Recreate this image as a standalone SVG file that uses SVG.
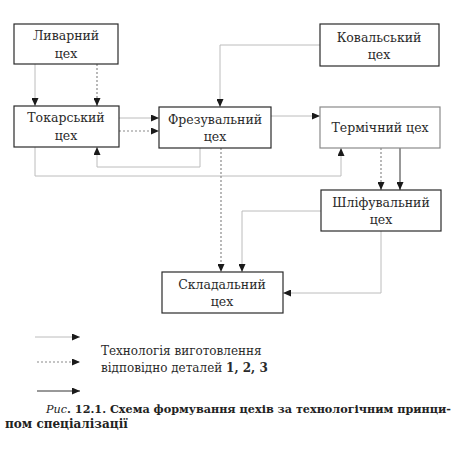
<svg xmlns="http://www.w3.org/2000/svg" width="458" height="455" viewBox="0 0 458 455">
<style>
.box{fill:#fff;stroke:#2a2a2a;stroke-width:1.2}
.boxl{fill:#fff;stroke:#8a8a8a;stroke-width:1.2}
.t{font-family:"DejaVu Serif","Liberation Serif",serif;font-size:12.5px;fill:#2a2a2a;text-anchor:middle}
.faint{fill:none;stroke:#bcbcbc;stroke-width:1}
.dot{fill:none;stroke:#8a8a8a;stroke-width:1.2;stroke-dasharray:2,2}
.solid{fill:none;stroke:#333;stroke-width:1}
.leg{font-family:"DejaVu Serif","Liberation Serif",serif;font-size:12px;fill:#2a2a2a}
.cap{font-family:"DejaVu Serif","Liberation Serif",serif;font-size:12px;font-weight:bold;fill:#222}
</style>
<defs>
<marker id="ah" markerUnits="userSpaceOnUse" markerWidth="8" markerHeight="7" refX="8" refY="3.5" orient="auto">
<path d="M0,0 L8,3.5 L0,7 z" fill="#1a1a1a"/>
</marker>
</defs>
<rect width="458" height="455" fill="#fff"/>
<g id="connectors">
<path class="dot" d="M97,64 V106" marker-end="url(#ah)"/>
<path class="faint" d="M35,64 V106" marker-end="url(#ah)"/>
<path class="dot" d="M119,131 H159" marker-end="url(#ah)"/>
<path class="faint" d="M119,118 H159" marker-end="url(#ah)"/>
<path class="faint" d="M320,45 H220 V107" marker-end="url(#ah)"/>
<path class="faint" d="M271,116 H320" marker-end="url(#ah)"/>
<path class="faint" d="M200,148 V167 H97 V147" marker-end="url(#ah)"/>
<path class="faint" d="M35,147 V176 H341 V148" marker-end="url(#ah)"/>
<path class="dot" d="M221,148 V272" marker-end="url(#ah)"/>
<path class="dot" d="M381,148 V190" marker-end="url(#ah)"/>
<path class="solid" d="M400,148 V190" marker-end="url(#ah)"/>
<path class="faint" d="M321,211 H242 V272" marker-end="url(#ah)"/>
<path class="faint" d="M381,231 V293 H283" marker-end="url(#ah)"/>
</g>
<g id="n-lyvarnyi">
<rect class="box" x="14" y="24" width="104" height="40"/>
<text class="t" x="66" y="40">Ливарний</text>
<text class="t" x="66" y="58">цех</text>
</g>
<g id="n-tokarskyi">
<rect class="box" x="14" y="106" width="105" height="41"/>
<text class="t" x="66" y="122">Токарський</text>
<text class="t" x="66" y="140">цех</text>
</g>
<g id="n-frezuvalnyi">
<rect class="box" x="159" y="107" width="112" height="41"/>
<text class="t" x="215" y="124">Фрезувальний</text>
<text class="t" x="215" y="141">цех</text>
</g>
<g id="n-kovalskyi">
<rect class="box" x="320" y="24" width="119" height="42"/>
<text class="t" x="379" y="42">Ковальський</text>
<text class="t" x="379" y="59">цех</text>
</g>
<g id="n-termichnyi">
<rect class="boxl" x="320" y="107" width="120" height="41"/>
<text class="t" x="380" y="132">Термічний цех</text>
</g>
<g id="n-shlifuvalnyi">
<rect class="box" x="321" y="190" width="120" height="41"/>
<text class="t" x="381" y="207">Шліфувальний</text>
<text class="t" x="381" y="224">цех</text>
</g>
<g id="n-skladalnyi">
<rect class="box" x="162" y="272" width="121" height="41"/>
<text class="t" x="222" y="289">Складальний</text>
<text class="t" x="222" y="306">цех</text>
</g>
<g id="legend">
<path class="faint" d="M35,337 H80" marker-end="url(#ah)"/>
<path class="dot" d="M37,362 H80" marker-end="url(#ah)"/>
<path class="solid" d="M37,391 H80" marker-end="url(#ah)"/>
<text class="leg" x="101" y="355">Технологія виготовлення</text>
<text class="leg" x="101" y="372">відповідно деталей <tspan font-weight="bold">1, 2, 3</tspan></text>
</g>
<g id="caption">
<text class="cap" x="46" y="413" font-size="11" textLength="405" lengthAdjust="spacingAndGlyphs" style="font-size:11px"><tspan font-style="italic" font-weight="normal">Рис</tspan>. 12.1. Схема формування цехів за технологічним принци-</text>
<text class="cap" x="5" y="428">пом спеціалізації</text>
</g>
</svg>
